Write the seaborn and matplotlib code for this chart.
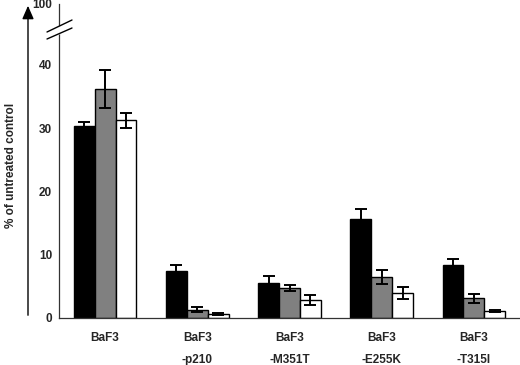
import matplotlib
matplotlib.use("Agg")
import matplotlib.pyplot as plt
import seaborn as sns
import pandas as pd
import numpy as np

sns.set_theme(style="white")
plt.rcParams['font.family'] = ['Liberation Sans', 'DejaVu Sans']

# Data
cell_lines = ["BaF3", "BaF3\n-p210", "BaF3\n-M351T", "BaF3\n-E255K", "BaF3\n-T315I"]
treatments = ["A", "B", "C"]
black_vals = [30.3, 7.4, 5.45, 15.6, 8.4]
gray_vals = [36.1, 1.3, 4.7, 6.5, 3.1]
white_vals = [31.2, 0.65, 2.85, 4.0, 1.05]
black_err = [0.6, 0.9, 1.15, 1.6, 0.95]
gray_err = [3.0, 0.4, 0.5, 1.1, 0.75]
white_err = [1.25, 0.2, 0.8, 0.95, 0.15]
y_ticks = [0, 10, 20, 30, 40, 100]

df = pd.DataFrame({
    "line": cell_lines * 3,
    "treatment": [t for t in treatments for _ in cell_lines],
    "value": black_vals + gray_vals + white_vals,
})
errs = black_err + gray_err + white_err

fig = plt.figure(figsize=(5.2, 3.65), dpi=100)
ax = fig.add_axes([59 / 520, 1 - 318 / 365, 461 / 520, 314 / 365])

# broken axis: 40..100 squeezed into the top strip
def fwd(y):
    y = np.asarray(y, dtype=float)
    return np.where(y <= 40, y, 40 + (y - 40) * 0.16)

def inv(y):
    y = np.asarray(y, dtype=float)
    return np.where(y <= 40, y, 40 + (y - 40) / 0.16)

sns.barplot(data=df, x="line", y="value", hue="treatment",
            palette=["black", "#808080", "white"], width=0.68, gap=0,
            edgecolor="black", linewidth=1.0, legend=False, ax=ax)

for p, e in zip(ax.patches, errs):
    cx = p.get_x() + p.get_width() / 2
    ax.errorbar(cx, p.get_height(), yerr=e, fmt="none", ecolor="black",
                elinewidth=1.4, capsize=4, capthick=1.4, zorder=5)

ax.set_yscale("function", functions=(fwd, inv))
ax.set_ylim(0, 100)
ax.set_xlim(-0.5, 4.5)
ax.set_yticks(y_ticks)
ax.set_yticklabels([str(t) for t in y_ticks])
ax.minorticks_off()

# tick marks between groups, labels under group centres
ax.set_xticks(np.arange(-0.5, 5.0, 1.0))
ax.set_xticklabels([])
ax.set_xticks(range(5), minor=True)
ax.set_xticklabels(cell_lines, minor=True)
ax.tick_params(axis="x", which="major", direction="out", length=3, width=0.8, color="#444444")
ax.tick_params(axis="x", which="minor", length=0, pad=10)
ax.tick_params(axis="y", direction="out", length=3, width=0.8, color="#444444", pad=2)
for lbl in ax.get_xticklabels(minor=True):
    lbl.set_fontweight("bold")
    lbl.set_fontsize(8.5)
    lbl.set_linespacing(2.1)
for lbl in ax.get_yticklabels():
    lbl.set_fontweight("bold")
    lbl.set_fontsize(8.5)

ax.set_xlabel("")
ax.set_ylabel("")
sns.despine(ax=ax)
for s in ["left", "bottom"]:
    ax.spines[s].set_color("#333333")
    ax.spines[s].set_linewidth(0.9)

# axis break marks
def px(x, y):
    return (x / 520, 1 - y / 365)

gap = plt.Polygon([px(55, 29), px(63, 25), px(63, 32), px(55, 36)],
                  closed=True, transform=fig.transFigure, color="white", zorder=10)
fig.patches.append(gap)
for (x0, y0, x1, y1) in [(47, 32, 72, 20), (47, 39, 72, 28)]:
    a, b = px(x0, y0), px(x1, y1)
    fig.add_artist(plt.Line2D([a[0], b[0]], [a[1], b[1]], transform=fig.transFigure,
                              color="black", linewidth=1.0, zorder=11))

# left arrow
fig.add_artist(matplotlib.patches.FancyArrowPatch(px(28, 318), px(28, 3),
               transform=fig.transFigure, arrowstyle="-|>,head_length=0.8,head_width=0.35",
               color="black", linewidth=1.0, mutation_scale=10))

fig.text(11 / 520, 1 - 165 / 365, "% of untreated control", rotation=90,
         ha="center", va="center", fontsize=8.5, fontweight="bold")

fig.savefig("out.png", dpi=100)
